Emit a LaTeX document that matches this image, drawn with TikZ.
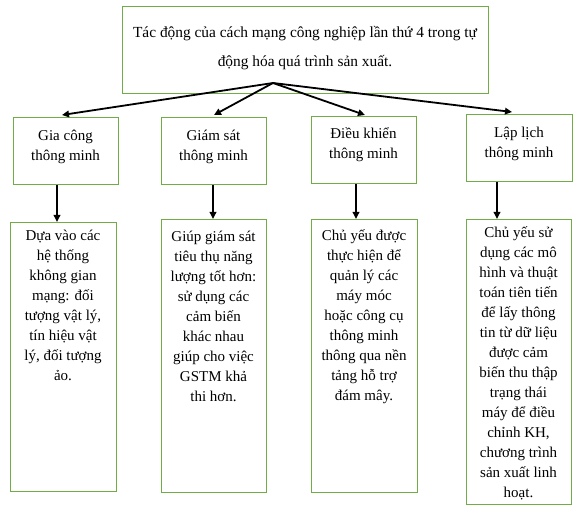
\documentclass[tikz,border=0pt]{standalone}
\usepackage{fontspec}
\setmainfont{Liberation Serif}
\usetikzlibrary{arrows, arrows.meta}
\usetikzlibrary{calc}
\definecolor{boxgreen}{RGB}{112,173,71}
% box text: height, width, first baseline, lines
\newcommand{\celltxt}[4]{\parbox[t][#1][t]{#2}{\centering\rule{0pt}{#3}#4}}

\begin{document}
\begin{tikzpicture}[x=1pt, y=-1pt,
    box/.style={draw=boxgreen, line width=0.9pt, inner sep=0pt, anchor=north, font=\fontsize{15}{20}\selectfont},
    arr/.style={line width=1.8pt, -{Triangle[length=7pt, width=6.5pt]}}]
  \useasboundingbox (0,0) rectangle (579,510);

  % top box
  \node[box] (top) at (305,6) {\celltxt{87pt}{366pt}{31pt}{\fontsize{15.4}{29}\selectfont Tác động của cách mạng công nghiệp lần thứ 4 trong tự\\động hóa quá trình sản xuất.}};
  \coordinate (apex) at (273,83);

  % second row
  \node[box] (l1) at (65.5,117) {\celltxt{67pt}{105pt}{23pt}{Gia công\\thông minh}};
  \node[box] (l2) at (213.5,117) {\celltxt{67pt}{105pt}{23pt}{Giám sát\\thông minh}};
  \node[box] (l3) at (363.5,116) {\celltxt{67pt}{105pt}{22pt}{Điều khiển\\thông minh}};
  \node[box] (l4) at (519,114) {\celltxt{67pt}{106pt}{23pt}{Lập lịch\\thông minh}};

  % third row
  \node[box] (d1) at (63,222) {\celltxt{269pt}{106pt}{18pt}{Dựa vào các\\hệ thống\\không gian\\mạng: đối\\tượng vật lý,\\tín hiệu vật\\lý, đối tượng\\ảo.}};
  \node[box] (d2) at (213.5,219) {\celltxt{273pt}{105pt}{22pt}{Giúp giám sát\\tiêu thụ năng\\lượng tốt hơn:\\sử dụng các\\cảm biến\\khác nhau\\giúp cho việc\\GSTM khả\\thi hơn.}};
  \node[box] (d3) at (364,219) {\celltxt{273pt}{106pt}{21pt}{Chủ yếu được\\thực hiện để\\quản lý các\\máy móc\\hoặc công cụ\\thông minh\\thông qua nền\\tảng hỗ trợ\\đám mây.}};
  \node[box] (d4) at (518.5,219) {\celltxt{285pt}{105pt}{18pt}{Chủ yếu sử\\dụng các mô\\hình và thuật\\toán tiên tiến\\để lấy thông\\tin từ dữ liệu\\được cảm\\biến thu thập\\trạng thái\\máy để điều\\chỉnh KH,\\chương trình\\sản xuất linh\\hoạt.}};

  % arrows
  \draw[arr] (apex) -- ([xshift=-3.5pt, yshift=2pt]l1.north);
  \draw[arr] (apex) -- ([xshift=0.5pt, yshift=2pt]l2.north);
  \draw[arr] (apex) -- ([xshift=1.5pt, yshift=1pt]l3.north);
  \draw[arr] (apex) -- ([xshift=-7pt, yshift=2pt]l4.north);

  \draw[arr] ([xshift=-8.5pt]l1.south) -- ([xshift=-8.5pt]l1.south |- d1.north);
  \draw[arr] ([xshift=-0.5pt]l2.south) -- ([xshift=-0.5pt]l2.south |- d2.north);
  \draw[arr] ([xshift=-7.5pt]l3.south) -- ([xshift=-7.5pt]l3.south |- d3.north);
  \draw[arr] ([xshift=-22pt]l4.south) -- ([xshift=-22pt]l4.south |- d4.north);
\end{tikzpicture}
\end{document}
